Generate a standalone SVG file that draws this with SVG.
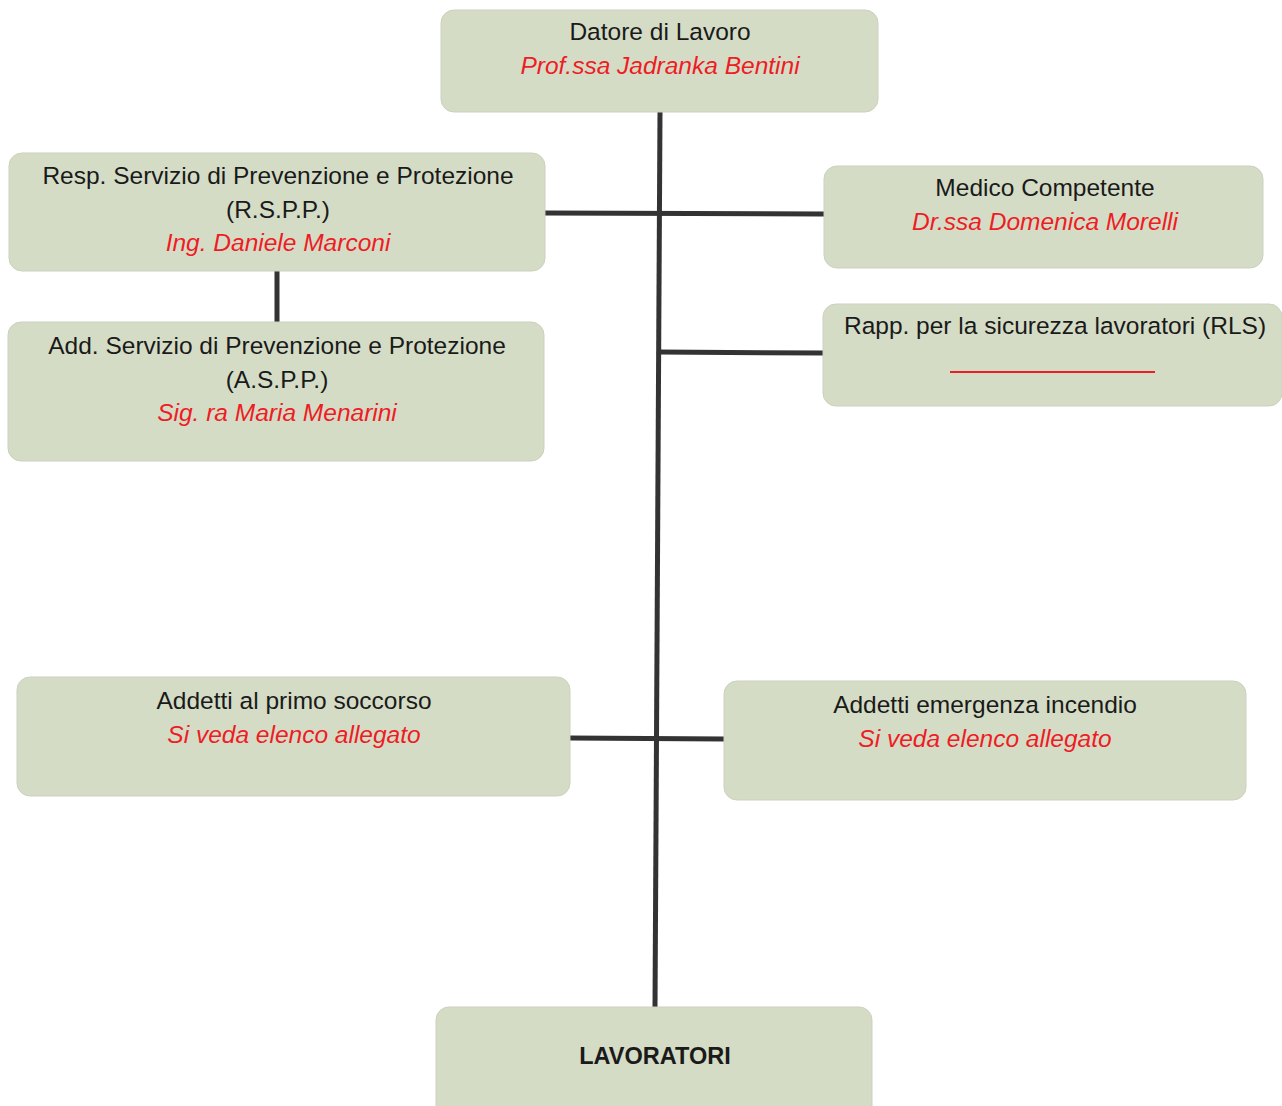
<svg xmlns="http://www.w3.org/2000/svg" width="1282" height="1106" viewBox="0 0 1282 1106">
<style>
.box{fill:#d5dcc6;stroke:#cbd1bd;stroke-width:1}
.t{font-family:"Liberation Sans",Arial,sans-serif;font-size:24.5px;fill:#1a1a1a;text-anchor:middle}
.r{font-family:"Liberation Sans",Arial,sans-serif;font-size:24.5px;fill:#ee1c25;font-style:italic;text-anchor:middle}
.b{font-weight:bold;font-size:23.5px}
.c{stroke:#333333;stroke-width:5;fill:none}
</style>
<rect width="1282" height="1106" fill="#ffffff"/>
<g id="connectors">
<line class="c" x1="660" y1="112" x2="655" y2="1007"/>
<line class="c" x1="545" y1="213" x2="824" y2="214"/>
<line class="c" x1="277" y1="271" x2="277" y2="322"/>
<line class="c" x1="659" y1="352" x2="823" y2="353"/>
<line class="c" x1="570" y1="738" x2="724" y2="739"/>
</g>
<g id="datore">
<rect class="box" x="441" y="10" width="437" height="102" rx="13"/>
<text class="t" x="660" y="40">Datore di Lavoro</text>
<text class="r" x="660" y="74">Prof.ssa Jadranka Bentini</text>
</g>
<g id="rspp">
<rect class="box" x="9" y="153" width="536" height="118" rx="13"/>
<text class="t" x="278" y="184">Resp. Servizio di Prevenzione e Protezione</text>
<text class="t" x="278" y="218">(R.S.P.P.)</text>
<text class="r" x="278" y="251">Ing. Daniele Marconi</text>
</g>
<g id="aspp">
<rect class="box" x="8" y="322" width="536" height="139" rx="13"/>
<text class="t" x="277" y="354">Add. Servizio di Prevenzione e Protezione</text>
<text class="t" x="277" y="388">(A.S.P.P.)</text>
<text class="r" x="277" y="421">Sig. ra Maria Menarini</text>
</g>
<g id="medico">
<rect class="box" x="824" y="166" width="439" height="102" rx="13"/>
<text class="t" x="1045" y="196">Medico Competente</text>
<text class="r" x="1045" y="230">Dr.ssa Domenica Morelli</text>
</g>
<g id="rls">
<rect class="box" x="823" y="304" width="459" height="102" rx="13"/>
<text class="t" x="1055" y="334">Rapp. per la sicurezza lavoratori (RLS)</text>
<line x1="950" y1="372" x2="1155" y2="372" stroke="#ee1c25" stroke-width="2"/>
</g>
<g id="primo-soccorso">
<rect class="box" x="17" y="677" width="553" height="119" rx="13"/>
<text class="t" x="294" y="709">Addetti al primo soccorso</text>
<text class="r" x="294" y="743">Si veda elenco allegato</text>
</g>
<g id="incendio">
<rect class="box" x="724" y="681" width="522" height="119" rx="13"/>
<text class="t" x="985" y="713">Addetti emergenza incendio</text>
<text class="r" x="985" y="747">Si veda elenco allegato</text>
</g>
<g id="lavoratori">
<rect class="box" x="436" y="1007" width="436" height="112" rx="13"/>
<text class="t b" x="655" y="1064">LAVORATORI</text>
</g>
</svg>
